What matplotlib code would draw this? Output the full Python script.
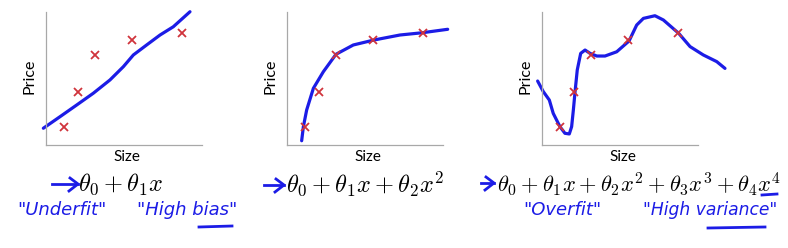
import matplotlib
matplotlib.use("Agg")
import matplotlib.pyplot as plt
from matplotlib.lines import Line2D

plt.rcParams['mathtext.fontset'] = 'cm'

# training data (same five houses in every panel), axes units 0..100
size_x = [11.5, 20.5, 31.4, 55.4, 86.9]
price_y = [13.5, 40.0, 68.0, 78.8, 84.2]

# hand drawn fits
fit1_x = [-1.7, 9.0, 19.7, 30.3, 41.0, 49.6, 56.0, 64.5, 73.1, 81.6, 92.3]
fit1_y = [12.6, 21.3, 30.1, 38.9, 48.9, 58.9, 67.7, 75.2, 82.7, 88.9, 100.2]

fit2_x = [9.4, 10.5, 12.6, 16.9, 23.3, 31.4, 42.5, 55.6, 72.4, 86.7, 103.0]
fit2_y = [3.2, 13.8, 26.3, 42.6, 55.1, 68.2, 75.2, 78.9, 82.7, 84.4, 87.0]

fit3_x = [-2.8, 0.8, 4.7, 7.2, 11.5, 14.7, 17.5, 19.0, 20.1, 21.2, 22.6, 24.8, 27.6,
          30.8, 35.1, 40.4, 47.9, 55.8, 60.7, 65.0, 72.4, 77.8, 87.6, 94.9, 103.4,
          112.0, 117.3]
fit3_y = [48.1, 40.2, 33.8, 23.8, 13.8, 8.8, 8.3, 13.8, 26.3, 40.2, 56.4, 68.9, 71.4,
          68.9, 66.9, 66.9, 70.1, 78.2, 90.2, 95.2, 97.2, 94.0, 84.0, 74.0, 67.7,
          62.7, 57.6]

fits = [(fit1_x, fit1_y), (fit2_x, fit2_y), (fit3_x, fit3_y)]
formulas = [r'$\theta_0 + \theta_1 x$',
            r'$\theta_0 + \theta_1 x + \theta_2 x^2$',
            r'$\theta_0 + \theta_1 x + \theta_2 x^2 + \theta_3 x^3 + \theta_4 x^4$']
notes = [['"Underfit"', '"High bias"'],
         [],
         ['"Overfit"', '"High variance"']]

W, H = 788, 248
fig = plt.figure(figsize=(W / 100, H / 100), dpi=100)
blue = '#1c1ce6'
red = '#d0343c'

def fx(px):
    return px / W

def fy(py):
    return 1 - py / H

ax_left = [46, 287, 542]
for i, left in enumerate(ax_left):
    ax = fig.add_axes([fx(left), fy(145), 156 / W, 133 / H])
    ax.set_xlim(0, 100)
    ax.set_ylim(0, 100)
    for s in ['top', 'right']:
        ax.spines[s].set_visible(False)
    for s in ['left', 'bottom']:
        ax.spines[s].set_color('#a8a8a8')
        ax.spines[s].set_linewidth(0.9)
    ax.set_xticks([])
    ax.set_yticks([])
    ax.set_facecolor('none')
    fx_, fy_ = fits[i]
    ax.plot(fx_, fy_, color=blue, lw=2.3, solid_joinstyle='round',
            solid_capstyle='round', clip_on=False, zorder=2)
    ax.plot(size_x, price_y, 'x', color=red, ms=6, mew=1.3, zorder=3)
    ax.set_xlabel('Size', fontsize=11, family='Lato')
    ax.set_ylabel('Price', fontsize=11.5, family='Lato')
    ax.xaxis.set_label_coords(0.52, -0.04)
    ax.yaxis.set_label_coords(-0.064, 0.52)

# formulas
fig.text(fx(78), fy(184), formulas[0], fontsize=17.5, va='center', ha='left')
fig.text(fx(286), fy(184), formulas[1], fontsize=17.5, va='center', ha='left')
fig.text(fx(497), fy(184), formulas[2], fontsize=16.2, va='center', ha='left')

# hand drawn arrows
for x0, x1, yy in [(52, 78, 184), (264, 284, 185), (481, 494, 183)]:
    fig.add_artist(Line2D([fx(x0), fx(x1)], [fy(yy), fy(yy)], color=blue, lw=2))
    fig.add_artist(Line2D([fx(x1 - 8), fx(x1), fx(x1 - 9)],
                          [fy(yy - 6), fy(yy), fy(yy + 7)], color=blue, lw=2))

# handwritten notes
hand = dict(fontsize=13, color=blue, style='italic', va='center', ha='left',
            family='DejaVu Sans')
fig.text(fx(17), fy(210), notes[0][0], **hand)
fig.text(fx(137), fy(210), notes[0][1], **hand)
fig.text(fx(523), fy(210), notes[2][0], **hand)
fig.text(fx(643), fy(210), notes[2][1], fontsize=12.3, color=blue, style='italic',
         va='center', ha='left', family='DejaVu Sans')

# underlines
for x0, x1, yy in [(199, 232, 227), (708, 765, 228), (762, 777, 195)]:
    fig.add_artist(Line2D([fx(x0), fx(x1)], [fy(yy), fy(yy - 1)], color=blue, lw=2))

fig.savefig('out.png', dpi=100)
